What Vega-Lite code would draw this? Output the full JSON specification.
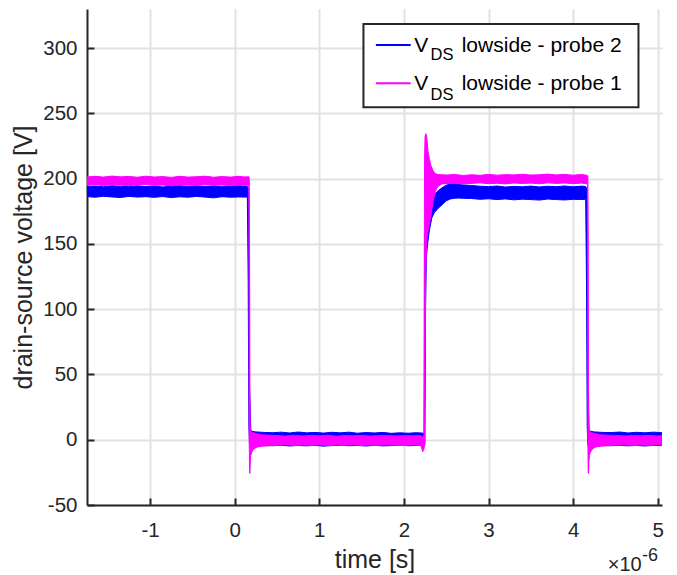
{
  "$schema": "https://vega.github.io/schema/vega-lite/v6.json",
  "width": 575,
  "height": 496,
  "autosize": {"type": "none"},
  "padding": {"left": 87, "top": 9, "right": 15, "bottom": 70},
  "background": "white",
  "config": {
    "view": {"stroke": null},
    "axis": {
      "labelFont": "Liberation Sans",
      "labelFontSize": 20.5,
      "labelColor": "#262626",
      "titleFont": "Liberation Sans",
      "titleFontSize": 25,
      "titleFontWeight": "normal",
      "titleColor": "#262626",
      "domainColor": "#262626",
      "domainWidth": 2,
      "tickColor": "#262626",
      "tickWidth": 2,
      "tickSize": -7,
      "gridColor": "#e2e2e2",
      "gridWidth": 2,
      "gridOpacity": 1
    }
  },
  "datasets": {
    "probe2": [
      {"t": -1.745, "lo": 186.3, "hi": 194.0},
      {"t": -1.65, "lo": 185.8, "hi": 194.4},
      {"t": -1.55, "lo": 186.5, "hi": 193.8},
      {"t": -1.45, "lo": 186.0, "hi": 194.6},
      {"t": -1.35, "lo": 185.6, "hi": 194.1},
      {"t": -1.25, "lo": 186.4, "hi": 193.9},
      {"t": -1.15, "lo": 185.9, "hi": 194.5},
      {"t": -1.05, "lo": 186.2, "hi": 194.0},
      {"t": -0.95, "lo": 185.7, "hi": 194.3},
      {"t": -0.85, "lo": 186.3, "hi": 193.7},
      {"t": -0.75, "lo": 185.5, "hi": 194.2},
      {"t": -0.65, "lo": 186.1, "hi": 194.6},
      {"t": -0.55, "lo": 185.8, "hi": 193.9},
      {"t": -0.45, "lo": 186.4, "hi": 194.3},
      {"t": -0.35, "lo": 185.9, "hi": 194.0},
      {"t": -0.25, "lo": 185.3, "hi": 194.4},
      {"t": -0.15, "lo": 186.2, "hi": 193.8},
      {"t": -0.05, "lo": 185.8, "hi": 194.2},
      {"t": 0.05, "lo": 186.0, "hi": 194.5},
      {"t": 0.15, "lo": 185.9, "hi": 194.0},
      {"t": 0.16, "lo": 120, "hi": 193},
      {"t": 0.168, "lo": 10, "hi": 150},
      {"t": 0.176, "lo": -4, "hi": 40},
      {"t": 0.19, "lo": -5, "hi": 8},
      {"t": 0.2, "lo": -5, "hi": 6.5},
      {"t": 0.25, "lo": -4.8, "hi": 6.0},
      {"t": 0.35, "lo": -4.5, "hi": 5.6},
      {"t": 0.45, "lo": -4.6, "hi": 5.4},
      {"t": 0.55, "lo": -4.2, "hi": 5.8},
      {"t": 0.65, "lo": -4.8, "hi": 5.2},
      {"t": 0.75, "lo": -4.4, "hi": 5.9},
      {"t": 0.85, "lo": -4.7, "hi": 5.3},
      {"t": 0.95, "lo": -4.3, "hi": 5.6},
      {"t": 1.05, "lo": -4.9, "hi": 5.1},
      {"t": 1.15, "lo": -4.5, "hi": 5.7},
      {"t": 1.25, "lo": -4.2, "hi": 5.3},
      {"t": 1.35, "lo": -4.6, "hi": 5.8},
      {"t": 1.45, "lo": -4.4, "hi": 5.0},
      {"t": 1.55, "lo": -4.8, "hi": 5.5},
      {"t": 1.65, "lo": -4.3, "hi": 5.2},
      {"t": 1.75, "lo": -4.7, "hi": 5.6},
      {"t": 1.85, "lo": -4.5, "hi": 4.9},
      {"t": 1.95, "lo": -4.1, "hi": 5.3},
      {"t": 2.05, "lo": -4.6, "hi": 5.0},
      {"t": 2.15, "lo": -4.4, "hi": 5.4},
      {"t": 2.24, "lo": -4.0, "hi": 5.0},
      {"t": 2.248, "lo": -3, "hi": 150},
      {"t": 2.256, "lo": 100, "hi": 165},
      {"t": 2.265, "lo": 140, "hi": 170},
      {"t": 2.28, "lo": 150, "hi": 175},
      {"t": 2.3, "lo": 160, "hi": 180},
      {"t": 2.33, "lo": 170, "hi": 185},
      {"t": 2.36, "lo": 174, "hi": 188},
      {"t": 2.4, "lo": 177, "hi": 190.5},
      {"t": 2.45, "lo": 180, "hi": 193},
      {"t": 2.5, "lo": 183, "hi": 195},
      {"t": 2.55, "lo": 184.5, "hi": 196},
      {"t": 2.6, "lo": 185, "hi": 196.2},
      {"t": 2.65, "lo": 185.2, "hi": 195.5},
      {"t": 2.7, "lo": 185, "hi": 195.2},
      {"t": 2.8, "lo": 184.8, "hi": 194.8},
      {"t": 2.9, "lo": 184.2, "hi": 194.2},
      {"t": 3.0, "lo": 184.6, "hi": 193.9},
      {"t": 3.1, "lo": 184.0, "hi": 194.4},
      {"t": 3.2, "lo": 184.5, "hi": 193.6},
      {"t": 3.3, "lo": 183.8, "hi": 194.1},
      {"t": 3.4, "lo": 184.3, "hi": 193.8},
      {"t": 3.5, "lo": 184.0, "hi": 194.3},
      {"t": 3.6, "lo": 183.6, "hi": 193.7},
      {"t": 3.7, "lo": 184.4, "hi": 194.2},
      {"t": 3.8, "lo": 184.0, "hi": 193.9},
      {"t": 3.9, "lo": 183.7, "hi": 194.4},
      {"t": 4.0, "lo": 184.2, "hi": 193.8},
      {"t": 4.1, "lo": 184.0, "hi": 194.3},
      {"t": 4.148, "lo": 184.3, "hi": 194.0},
      {"t": 4.158, "lo": 120, "hi": 193},
      {"t": 4.166, "lo": 10, "hi": 150},
      {"t": 4.174, "lo": -4, "hi": 40},
      {"t": 4.188, "lo": -5, "hi": 8},
      {"t": 4.2, "lo": -5, "hi": 6.5},
      {"t": 4.25, "lo": -4.8, "hi": 6.0},
      {"t": 4.35, "lo": -4.5, "hi": 5.6},
      {"t": 4.45, "lo": -4.6, "hi": 5.5},
      {"t": 4.55, "lo": -4.3, "hi": 5.9},
      {"t": 4.65, "lo": -4.7, "hi": 5.2},
      {"t": 4.75, "lo": -4.4, "hi": 5.7},
      {"t": 4.85, "lo": -4.8, "hi": 5.3},
      {"t": 4.95, "lo": -4.3, "hi": 5.8},
      {"t": 5.05, "lo": -4.5, "hi": 5.4}
    ],
    "probe1": [
      {"t": -1.745, "lo": 195.0, "hi": 201.3},
      {"t": -1.65, "lo": 195.4, "hi": 201.8},
      {"t": -1.55, "lo": 194.8, "hi": 201.2},
      {"t": -1.45, "lo": 195.3, "hi": 202.0},
      {"t": -1.35, "lo": 195.0, "hi": 201.4},
      {"t": -1.25, "lo": 194.7, "hi": 201.7},
      {"t": -1.15, "lo": 195.2, "hi": 201.1},
      {"t": -1.05, "lo": 195.5, "hi": 201.9},
      {"t": -0.95, "lo": 194.9, "hi": 201.3},
      {"t": -0.85, "lo": 195.1, "hi": 201.6},
      {"t": -0.75, "lo": 194.6, "hi": 201.0},
      {"t": -0.65, "lo": 195.2, "hi": 201.8},
      {"t": -0.55, "lo": 195.0, "hi": 201.2},
      {"t": -0.45, "lo": 194.8, "hi": 201.5},
      {"t": -0.35, "lo": 195.3, "hi": 201.9},
      {"t": -0.25, "lo": 194.9, "hi": 201.1},
      {"t": -0.15, "lo": 195.1, "hi": 201.6},
      {"t": -0.05, "lo": 194.7, "hi": 201.2},
      {"t": 0.05, "lo": 195.2, "hi": 201.8},
      {"t": 0.12, "lo": 194.9, "hi": 201.3},
      {"t": 0.168, "lo": 195.0, "hi": 201.5},
      {"t": 0.172, "lo": 0, "hi": 201},
      {"t": 0.176, "lo": -25.5, "hi": 150},
      {"t": 0.18, "lo": -25.8, "hi": 40},
      {"t": 0.184, "lo": -18, "hi": 10},
      {"t": 0.19, "lo": -12, "hi": 7},
      {"t": 0.2, "lo": -10, "hi": 6},
      {"t": 0.215, "lo": -8, "hi": 5.5},
      {"t": 0.24, "lo": -6.5, "hi": 5},
      {"t": 0.27, "lo": -5.5, "hi": 4.5},
      {"t": 0.32, "lo": -5, "hi": 3.8},
      {"t": 0.4, "lo": -4.5, "hi": 3.5},
      {"t": 0.5, "lo": -4.2, "hi": 3.2},
      {"t": 0.6, "lo": -3.8, "hi": 2.8},
      {"t": 0.7, "lo": -4.4, "hi": 3.4},
      {"t": 0.8, "lo": -4.0, "hi": 2.9},
      {"t": 0.9, "lo": -4.3, "hi": 3.3},
      {"t": 1.0, "lo": -3.9, "hi": 3.0},
      {"t": 1.1, "lo": -4.5, "hi": 3.5},
      {"t": 1.2, "lo": -4.0, "hi": 2.7},
      {"t": 1.3, "lo": -4.2, "hi": 3.2},
      {"t": 1.4, "lo": -3.8, "hi": 3.0},
      {"t": 1.5, "lo": -4.4, "hi": 3.4},
      {"t": 1.6, "lo": -4.1, "hi": 2.8},
      {"t": 1.7, "lo": -4.3, "hi": 3.1},
      {"t": 1.8, "lo": -3.9, "hi": 3.3},
      {"t": 1.9, "lo": -4.2, "hi": 2.9},
      {"t": 2.0, "lo": -4.4, "hi": 3.2},
      {"t": 2.1, "lo": -4.0, "hi": 3.0},
      {"t": 2.18, "lo": -4.3, "hi": 3.2},
      {"t": 2.205, "lo": -5, "hi": 3},
      {"t": 2.222, "lo": -9.2, "hi": 2.5},
      {"t": 2.236, "lo": -7, "hi": 3},
      {"t": 2.24, "lo": -6, "hi": 120},
      {"t": 2.244, "lo": -4, "hi": 215},
      {"t": 2.25, "lo": 60, "hi": 232},
      {"t": 2.258, "lo": 130, "hi": 234.5},
      {"t": 2.268, "lo": 150, "hi": 233},
      {"t": 2.275, "lo": 155, "hi": 228},
      {"t": 2.285, "lo": 160, "hi": 221},
      {"t": 2.3, "lo": 165, "hi": 215},
      {"t": 2.32, "lo": 172, "hi": 210},
      {"t": 2.345, "lo": 183, "hi": 206},
      {"t": 2.37, "lo": 190, "hi": 204},
      {"t": 2.4, "lo": 194, "hi": 203.2},
      {"t": 2.45, "lo": 196, "hi": 203},
      {"t": 2.5, "lo": 196.2, "hi": 202.8},
      {"t": 2.6, "lo": 196.6, "hi": 203.2},
      {"t": 2.7, "lo": 196.0, "hi": 202.5},
      {"t": 2.8, "lo": 196.4, "hi": 203.0},
      {"t": 2.9, "lo": 196.8, "hi": 202.6},
      {"t": 3.0, "lo": 196.2, "hi": 203.3},
      {"t": 3.1, "lo": 196.5, "hi": 202.7},
      {"t": 3.2, "lo": 196.0, "hi": 203.1},
      {"t": 3.3, "lo": 196.7, "hi": 202.9},
      {"t": 3.4, "lo": 196.3, "hi": 203.4},
      {"t": 3.5, "lo": 196.6, "hi": 202.8},
      {"t": 3.6, "lo": 196.1, "hi": 203.0},
      {"t": 3.7, "lo": 196.8, "hi": 203.5},
      {"t": 3.8, "lo": 196.4, "hi": 202.9},
      {"t": 3.9, "lo": 196.7, "hi": 203.3},
      {"t": 4.0, "lo": 196.2, "hi": 202.7},
      {"t": 4.1, "lo": 196.6, "hi": 203.2},
      {"t": 4.17, "lo": 196.0, "hi": 202.5},
      {"t": 4.174, "lo": 0, "hi": 202},
      {"t": 4.178, "lo": -25.5, "hi": 150},
      {"t": 4.182, "lo": -25.8, "hi": 40},
      {"t": 4.186, "lo": -18, "hi": 10},
      {"t": 4.192, "lo": -12, "hi": 7},
      {"t": 4.202, "lo": -10, "hi": 6},
      {"t": 4.217, "lo": -8, "hi": 5.5},
      {"t": 4.24, "lo": -6.5, "hi": 5},
      {"t": 4.27, "lo": -5.5, "hi": 4.5},
      {"t": 4.32, "lo": -5, "hi": 3.8},
      {"t": 4.4, "lo": -4.5, "hi": 3.5},
      {"t": 4.5, "lo": -4.2, "hi": 3.3},
      {"t": 4.6, "lo": -3.9, "hi": 2.9},
      {"t": 4.7, "lo": -4.4, "hi": 3.2},
      {"t": 4.8, "lo": -4.0, "hi": 3.0},
      {"t": 4.9, "lo": -4.3, "hi": 3.4},
      {"t": 5.0, "lo": -3.9, "hi": 2.8},
      {"t": 5.05, "lo": -4.1, "hi": 3.1}
    ]
  },
  "layer": [
    {
      "data": {"name": "probe2"},
      "mark": {"type": "area", "color": "#0000ff", "stroke": "#0000ff", "strokeWidth": 1, "clip": true, "interpolate": "linear"},
      "encoding": {
        "x": {
          "field": "t", "type": "quantitative",
          "scale": {"domain": [-1.745, 5.05], "nice": false, "zero": false},
          "axis": {"title": "time [s]", "values": [-1, 0, 1, 2, 3, 4, 5], "labelExpr": "'' + datum.value", "labelPadding": 22, "titlePadding": 7, "labelFlush": false}
        },
        "y": {
          "field": "lo", "type": "quantitative",
          "scale": {"domain": [-50, 330], "nice": false, "zero": false},
          "axis": {"title": "drain-source voltage [V]", "values": [-50, 0, 50, 100, 150, 200, 250, 300], "labelExpr": "'' + datum.value", "labelPadding": 17, "titlePadding": 6}
        },
        "y2": {"field": "hi"}
      }
    },
    {
      "data": {"name": "probe1"},
      "mark": {"type": "area", "color": "#ff00ff", "stroke": "#ff00ff", "strokeWidth": 1, "clip": true, "interpolate": "linear"},
      "encoding": {
        "x": {"field": "t", "type": "quantitative", "scale": {"domain": [-1.745, 5.05], "nice": false, "zero": false}},
        "y": {"field": "lo", "type": "quantitative", "scale": {"domain": [-50, 330], "nice": false, "zero": false}},
        "y2": {"field": "hi"}
      }
    },
    {
      "data": {"values": [{}]},
      "mark": {"type": "rect", "fill": "white", "stroke": "#262626", "strokeWidth": 2},
      "encoding": {
        "x": {"datum": 1.522, "type": "quantitative"},
        "x2": {"datum": 4.772},
        "y": {"datum": 318.5, "type": "quantitative"},
        "y2": {"datum": 254.7}
      }
    },
    {
      "data": {"values": [{}]},
      "mark": {"type": "rule", "color": "#0000ff", "strokeWidth": 2},
      "encoding": {
        "x": {"datum": 1.669, "type": "quantitative"},
        "x2": {"datum": 2.08},
        "y": {"datum": 302.4, "type": "quantitative"}
      }
    },
    {
      "data": {"values": [{}]},
      "mark": {"type": "rule", "color": "#ff00ff", "strokeWidth": 2},
      "encoding": {
        "x": {"datum": 1.669, "type": "quantitative"},
        "x2": {"datum": 2.08},
        "y": {"datum": 273.1, "type": "quantitative"}
      }
    },
    {
      "data": {"values": [{}]},
      "mark": {"type": "text", "text": "V", "font": "Liberation Sans", "fontSize": 21, "color": "#000000", "align": "left", "baseline": "alphabetic"},
      "encoding": {"x": {"datum": 2.122, "type": "quantitative"}, "y": {"datum": 297.3, "type": "quantitative"}}
    },
    {
      "data": {"values": [{}]},
      "mark": {"type": "text", "text": "DS", "font": "Liberation Sans", "fontSize": 16.5, "color": "#000000", "align": "left", "baseline": "alphabetic"},
      "encoding": {"x": {"datum": 2.315, "type": "quantitative"}, "y": {"datum": 290.9, "type": "quantitative"}}
    },
    {
      "data": {"values": [{}]},
      "mark": {"type": "text", "text": "lowside - probe 2", "font": "Liberation Sans", "fontSize": 21, "color": "#000000", "align": "left", "baseline": "alphabetic"},
      "encoding": {"x": {"datum": 2.683, "type": "quantitative"}, "y": {"datum": 297.3, "type": "quantitative"}}
    },
    {
      "data": {"values": [{}]},
      "mark": {"type": "text", "text": "V", "font": "Liberation Sans", "fontSize": 21, "color": "#000000", "align": "left", "baseline": "alphabetic"},
      "encoding": {"x": {"datum": 2.122, "type": "quantitative"}, "y": {"datum": 267.9, "type": "quantitative"}}
    },
    {
      "data": {"values": [{}]},
      "mark": {"type": "text", "text": "DS", "font": "Liberation Sans", "fontSize": 16.5, "color": "#000000", "align": "left", "baseline": "alphabetic"},
      "encoding": {"x": {"datum": 2.315, "type": "quantitative"}, "y": {"datum": 260.3, "type": "quantitative"}}
    },
    {
      "data": {"values": [{}]},
      "mark": {"type": "text", "text": "lowside - probe 1", "font": "Liberation Sans", "fontSize": 21, "color": "#000000", "align": "left", "baseline": "alphabetic"},
      "encoding": {"x": {"datum": 2.683, "type": "quantitative"}, "y": {"datum": 267.9, "type": "quantitative"}}
    },
    {
      "data": {"values": [{}]},
      "mark": {"type": "text", "text": "×10", "font": "Liberation Sans", "fontSize": 20, "color": "#262626", "align": "right", "baseline": "alphabetic"},
      "encoding": {"x": {"datum": 4.81, "type": "quantitative"}, "y": {"datum": -100.6, "type": "quantitative"}}
    },
    {
      "data": {"values": [{}]},
      "mark": {"type": "text", "text": "-6", "font": "Liberation Sans", "fontSize": 18, "color": "#262626", "align": "left", "baseline": "alphabetic"},
      "encoding": {"x": {"datum": 4.813, "type": "quantitative"}, "y": {"datum": -92.9, "type": "quantitative"}}
    }
  ]
}
